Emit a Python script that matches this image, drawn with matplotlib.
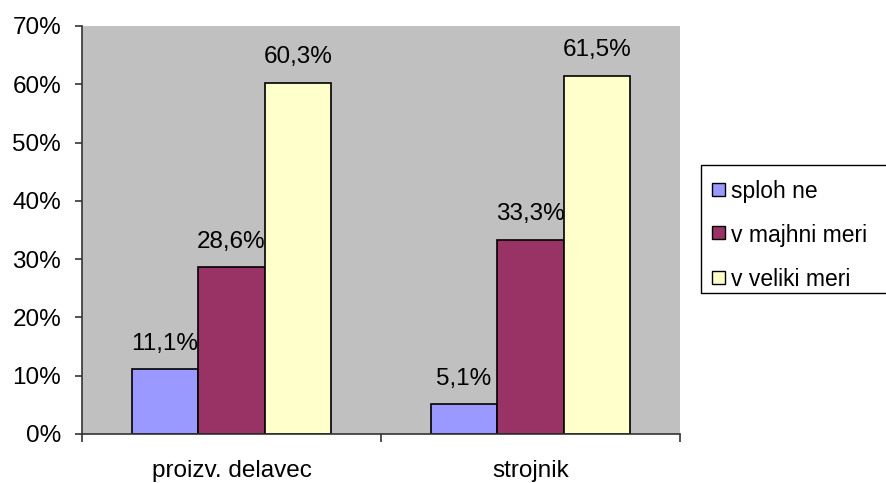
import matplotlib
matplotlib.use("Agg")
import matplotlib.pyplot as plt
from matplotlib.patches import Rectangle
import numpy as np

categories = ["proizv. delavec", "strojnik"]
series_names = ["sploh ne", "v majhni meri", "v veliki meri"]
sploh_ne = [11.1, 5.1]
v_majhni_meri = [28.6, 33.3]
v_veliki_meri = [60.3, 61.5]
y_ticks = [0, 10, 20, 30, 40, 50, 60, 70]

colors = ["#9999FF", "#993366", "#FFFFCC"]

plt.rcParams["font.family"] = ["Liberation Sans", "DejaVu Sans"]

W, H = 886, 483
fig = plt.figure(figsize=(W / 100, H / 100), dpi=100)
ax = fig.add_axes([82 / W, 1 - 434 / H, (680 - 82) / W, (434 - 26) / H])
ax.set_facecolor("#C0C0C0")

x = np.arange(len(categories))
width = 0.222
values = [sploh_ne, v_majhni_meri, v_veliki_meri]
for i, (name, vals, col) in enumerate(zip(series_names, values, colors)):
    pos = x + (i - 1) * width
    bars = ax.bar(pos, vals, width, color=col, edgecolor="black", linewidth=1.2, label=name)
    for b, v in zip(bars, vals):
        ax.annotate(f"{v:.1f}%".replace(".", ","),
                    (b.get_x() + b.get_width() / 2, v),
                    xytext=(0, 14), textcoords="offset points",
                    ha="center", va="baseline", fontsize=17.5)

ax.set_xlim(-0.5, 1.5)
ax.set_ylim(0, 70)
ax.set_yticks(y_ticks)
ax.set_yticklabels([f"{t}%" for t in y_ticks], fontsize=17.5)
ax.set_xticks(x)
ax.set_xticklabels(categories, fontsize=17.5)
ax.tick_params(axis="x", length=0, pad=19)
ax.set_xticks([-0.5, 0.5, 1.5], minor=True)
ax.tick_params(axis="x", which="minor", length=6, color="#333333", width=1.2, direction="out")
ax.tick_params(axis="y", length=5, color="#333333", width=1.2, direction="out", pad=10)

for s in ["top", "right"]:
    ax.spines[s].set_visible(False)
for s in ["left", "bottom"]:
    ax.spines[s].set_color("#333333")
    ax.spines[s].set_linewidth(1.2)

# legend box, drawn in figure pixel coordinates
px = lambda xp, yp: (xp / W, 1 - yp / H)
frame = Rectangle(px(701, 293), 200 / W, 128 / H, transform=fig.transFigure,
                  facecolor="white", edgecolor="black", linewidth=1.0, clip_on=False)
fig.add_artist(frame)
row_centers = [189, 233, 277]
for name, col, yc in zip(series_names, colors, row_centers):
    fig.add_artist(Rectangle(px(712, yc + 6.5), 13 / W, 13 / H, transform=fig.transFigure,
                             facecolor=col, edgecolor="black", linewidth=1.0))
    fig.text(*px(731, yc), name, fontsize=16.5, ha="left", va="center_baseline")

fig.savefig("out.png", dpi=100)
